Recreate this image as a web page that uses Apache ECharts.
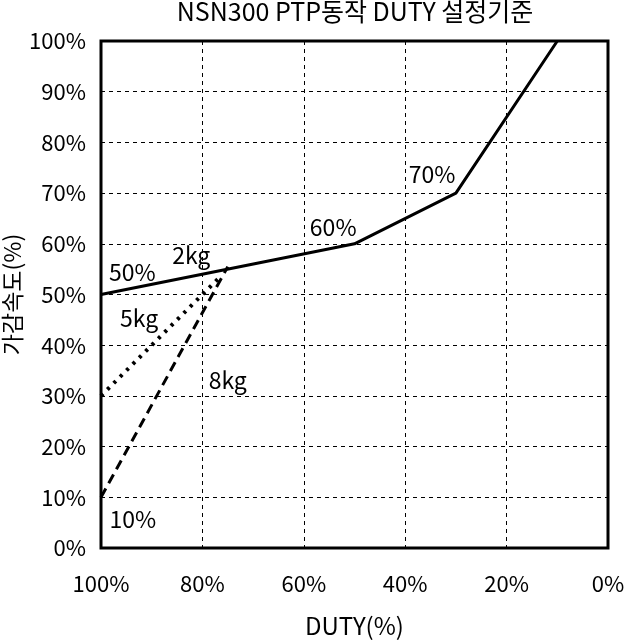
<!DOCTYPE html>
<html><head><meta charset="utf-8">
<script src="https://cdn.jsdelivr.net/npm/echarts@6/dist/echarts.min.js"></script>
<style>html,body{margin:0;padding:0;background:#fff}#c{width:626px;height:642px}</style>
</head><body><div id="c"></div>
<script>
var xTicks = [100, 80, 60, 40, 20, 0];
var line2kg = [[100, 50], [50, 60], [30, 70], [10, 100]];
var line5kg = [[100, 30], [90, 40], [80, 50], [76.5, 53.5]];
var line8kg = [[100, 10], [75, 55.5]];
var labelTexts = ['50%', '2kg', '5kg', '8kg', '10%', '60%', '70%'];
var labelPos = [[93.8, 54.4], [82.2, 57.8], [92.5, 45.4], [75, 33.1], [93.7, 5.7], [54.2, 63.3], [34.7, 73.8]];

var FONT = '"Noto Sans CJK KR", "Noto Sans", sans-serif';
var chart = echarts.init(document.getElementById('c'));
chart.setOption({
  animation: false,
  title: {text: 'NSN300 PTP동작 DUTY 설정기준', left: 355, textAlign: 'center', top: -1, padding: 0,
    textStyle: {fontFamily: FONT, fontSize: 25, fontWeight: 'normal', color: '#000'}},
  grid: {left: 101, right: 18, top: 41, bottom: 94, show: true, borderColor: '#000', borderWidth: 3,
    outerBoundsMode: 'none', containLabel: false},
  xAxis: {type: 'value', min: 0, max: 100, interval: 20, inverse: true,
    name: 'DUTY(%)', nameLocation: 'middle', nameGap: 66, nameMoveOverlap: false,
    nameTextStyle: {fontFamily: FONT, fontSize: 24, color: '#000'},
    axisLine: {show: false}, axisTick: {show: false},
    axisLabel: {formatter: '{value}%', margin: 25, fontFamily: FONT, fontSize: 22, color: '#000'},
    splitLine: {show: true, lineStyle: {color: '#000', type: [4, 4], width: 1}}},
  yAxis: {type: 'value', min: 0, max: 100, interval: 10,
    name: '가감속도(%)', nameLocation: 'middle', nameGap: 77, nameMoveOverlap: false,
    nameTextStyle: {fontFamily: FONT, fontSize: 23, color: '#000'},
    axisLine: {show: false}, axisTick: {show: false},
    axisLabel: {formatter: '{value}%', margin: 15, fontFamily: FONT, fontSize: 22, color: '#000'},
    splitLine: {show: true, lineStyle: {color: '#000', type: [4, 4], width: 1}}},
  series: [
    {type: 'line', data: line2kg, symbol: 'none', lineStyle: {color: '#000', width: 3}},
    {type: 'line', data: line5kg, symbol: 'none', lineStyle: {color: '#000', width: 4, type: [3, 6]}},
    {type: 'line', data: line8kg, symbol: 'none', lineStyle: {color: '#000', width: 3, type: [10, 6]}},
    {type: 'scatter', symbolSize: 0, silent: true, itemStyle: {opacity: 1},
      data: labelPos.map(function(p, i){ return {value: p, name: labelTexts[i]}; }),
      label: {show: true, position: 'inside', formatter: '{b}', fontFamily: FONT, fontSize: 23, color: '#000'}}
  ]
});
</script></body></html>
